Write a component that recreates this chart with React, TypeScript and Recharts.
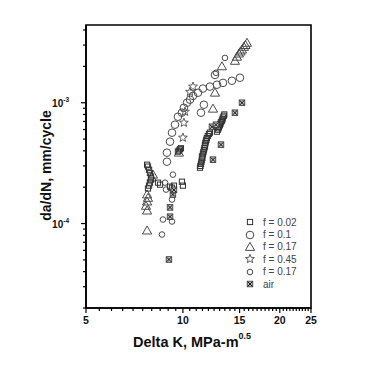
import React from 'react'
import { ScatterChart, Scatter, XAxis, YAxis, ReferenceArea } from 'recharts'

interface Pt {
  x: number
  y: number
}

const f002: Pt[] = [
  { x: 7.74, y: 3.07e-4 }, { x: 7.79, y: 2.96e-4 }, { x: 7.85, y: 2.79e-4 }, { x: 7.9, y: 2.62e-4 },
  { x: 7.96, y: 2.45e-4 }, { x: 7.96, y: 2.31e-4 }, { x: 7.9, y: 2.18e-4 }, { x: 7.85, y: 2.06e-4 },
  { x: 7.79, y: 1.95e-4 }, { x: 8.37, y: 2.18e-4 }, { x: 8.49, y: 2.1e-4 }, { x: 9.12, y: 2.02e-4 },
  { x: 9.25, y: 1.98e-4 }, { x: 9.38, y: 2.06e-4 }, { x: 9.93, y: 2.22e-4 }, { x: 10.0, y: 2.06e-4 },
  { x: 9.65, y: 3.94e-4 }, { x: 9.72, y: 4.02e-4 }, { x: 9.79, y: 4.12e-4 }, { x: 9.86, y: 4.2e-4 },
  { x: 11.3, y: 2.9e-4 }, { x: 11.34, y: 3.0e-4 }, { x: 11.38, y: 3.12e-4 }, { x: 11.42, y: 3.25e-4 },
  { x: 11.46, y: 3.38e-4 }, { x: 11.5, y: 3.5e-4 }, { x: 11.46, y: 3.6e-4 }, { x: 11.54, y: 3.75e-4 },
  { x: 11.58, y: 3.9e-4 }, { x: 11.62, y: 4.05e-4 }, { x: 11.66, y: 4.2e-4 }, { x: 11.71, y: 4.35e-4 },
  { x: 11.71, y: 4.5e-4 }, { x: 11.75, y: 4.65e-4 }, { x: 11.79, y: 4.8e-4 }, { x: 11.83, y: 4.95e-4 },
  { x: 11.87, y: 5.1e-4 }, { x: 11.95, y: 5.3e-4 }, { x: 12.05, y: 5.5e-4 }, { x: 12.13, y: 5.65e-4 },
  { x: 12.76, y: 5.76e-4 }, { x: 12.85, y: 5.98e-4 }, { x: 12.9, y: 6.15e-4 }, { x: 12.94, y: 6.3e-4 },
  { x: 13.03, y: 6.5e-4 }, { x: 13.08, y: 6.7e-4 }, { x: 13.13, y: 6.9e-4 }, { x: 13.22, y: 7.1e-4 },
  { x: 13.27, y: 7.3e-4 }, { x: 13.32, y: 7.55e-4 }, { x: 13.4, y: 7.8e-4 }, { x: 13.45, y: 8.0e-4 },
]

const f01: Pt[] = [
  { x: 8.92, y: 3.25e-4 }, { x: 8.92, y: 3.86e-4 }, { x: 9.12, y: 4.76e-4 }, { x: 9.25, y: 5.65e-4 },
  { x: 9.45, y: 6.58e-4 }, { x: 9.65, y: 7.66e-4 }, { x: 9.93, y: 8.27e-4 }, { x: 10.07, y: 9.09e-4 },
  { x: 10.3, y: 1.0e-3 }, { x: 10.52, y: 1.06e-3 }, { x: 10.75, y: 1.14e-3 }, { x: 11.14, y: 1.21e-3 },
  { x: 11.54, y: 1.31e-3 }, { x: 12.13, y: 1.36e-3 }, { x: 12.76, y: 1.41e-3 }, { x: 13.32, y: 1.46e-3 },
  { x: 14.2, y: 1.52e-3 }, { x: 15.04, y: 1.61e-3 }, { x: 11.62, y: 9.63e-4 }, { x: 11.38, y: 8.27e-4 },
  { x: 12.58, y: 1.7e-3 },
]

const f017: Pt[] = [
  { x: 7.74, y: 1.74e-4 }, { x: 7.79, y: 1.63e-4 }, { x: 7.74, y: 1.52e-4 }, { x: 7.68, y: 1.4e-4 },
  { x: 7.74, y: 1.28e-4 }, { x: 7.74, y: 8.75e-5 }, { x: 8.07, y: 2.54e-4 }, { x: 8.0, y: 2.4e-4 },
  { x: 9.72, y: 3.86e-4 }, { x: 15.81, y: 3.13e-3 }, { x: 15.64, y: 3.0e-3 }, { x: 15.47, y: 2.9e-3 },
  { x: 15.26, y: 2.75e-3 }, { x: 15.1, y: 2.65e-3 }, { x: 14.93, y: 2.55e-3 }, { x: 14.72, y: 2.4e-3 },
  { x: 14.51, y: 2.22e-3 }, { x: 13.22, y: 2.0e-3 }, { x: 12.58, y: 1.21e-3 }, { x: 12.4, y: 8.92e-4 },
]

const f045: Pt[] = [
  { x: 10.75, y: 1.36e-3 }, { x: 10.52, y: 1.23e-3 }, { x: 10.15, y: 8.43e-4 },
  { x: 10.07, y: 6.83e-4 }, { x: 10.0, y: 5.14e-4 },
]

const f017b: Pt[] = [
  { x: 8.8, y: 2.18e-4 }, { x: 8.86, y: 1.91e-4 }, { x: 9.31, y: 2.54e-4 }, { x: 9.25, y: 1.58e-4 },
  { x: 8.67, y: 1.08e-4 }, { x: 9.25, y: 1.04e-4 }, { x: 8.61, y: 8.11e-5 }, { x: 12.67, y: 1.77e-3 },
  { x: 13.51, y: 2.35e-3 },
]

const air: Pt[] = [
  { x: 15.26, y: 1.0e-3 }, { x: 14.51, y: 8.27e-4 }, { x: 13.13, y: 4.5e-4 }, { x: 12.4, y: 3.38e-4 },
  { x: 12.31, y: 6.33e-4 }, { x: 12.67, y: 6.58e-4 }, { x: 9.31, y: 1.74e-4 }, { x: 9.12, y: 1.36e-4 },
  { x: 9.12, y: 1.14e-4 }, { x: 9.05, y: 5.04e-5 }, { x: 9.38, y: 1.9e-4 },
]

const xMajor = [5, 10, 15, 20, 25]
const xTicks = Array.from({ length: 41 }, (_, i) => 5 + i * 0.5)
const yMajor = [1e-4, 1e-3]
const yTicks = [
  2e-5, 3e-5, 4e-5, 5e-5, 6e-5, 7e-5, 8e-5, 9e-5,
  1e-4, 2e-4, 3e-4, 4e-4, 5e-4, 6e-4, 7e-4, 8e-4, 9e-4,
  1e-3, 2e-3, 3e-3, 4e-3,
]
const legendItems = [
  { kind: 'square', label: 'f = 0.02' },
  { kind: 'circle', label: 'f = 0.1' },
  { kind: 'triangle', label: 'f = 0.17' },
  { kind: 'star', label: 'f = 0.45' },
  { kind: 'dot', label: 'f = 0.17' },
  { kind: 'air', label: 'air' },
]

const INK = '#4a4a4a'
const FONT = '"Liberation Sans", Arial, sans-serif'

function starPoints(cx: number, cy: number, ro: number, ri: number) {
  const pts: string[] = []
  for (let i = 0; i < 10; i++) {
    const r = i % 2 === 0 ? ro : ri
    const a = -Math.PI / 2 + (i * Math.PI) / 5
    pts.push(`${cx + r * Math.cos(a)},${cy + r * Math.sin(a)}`)
  }
  return pts.join(' ')
}

function Marker({ kind, cx, cy }: { kind: string; cx: number; cy: number }) {
  switch (kind) {
    case 'square':
      return <rect x={cx - 2.6} y={cy - 2.6} width={5.2} height={5.2} fill="none" stroke="#333" strokeWidth={1} />
    case 'circle':
      return <circle cx={cx} cy={cy} r={3.8} fill="none" stroke={INK} strokeWidth={1} />
    case 'triangle':
      return (
        <polygon
          points={`${cx},${cy - 4.6} ${cx + 4.6},${cy + 3.4} ${cx - 4.6},${cy + 3.4}`}
          fill="none"
          stroke={INK}
          strokeWidth={1}
        />
      )
    case 'star':
      return <polygon points={starPoints(cx, cy, 4.6, 2)} fill="none" stroke={INK} strokeWidth={0.9} />
    case 'dot':
      return <circle cx={cx} cy={cy} r={2.8} fill="none" stroke={INK} strokeWidth={1} />
    default:
      return (
        <g>
          <rect x={cx - 2.8} y={cy - 2.8} width={5.6} height={5.6} fill="#bbb" stroke="#333" strokeWidth={0.8} />
          <path
            d={`M${cx - 2.2},${cy - 2.2}L${cx + 2.2},${cy + 2.2}M${cx + 2.2},${cy - 2.2}L${cx - 2.2},${cy + 2.2}`}
            stroke="#111"
            strokeWidth={1}
          />
        </g>
      )
  }
}

const shapeOf = (kind: string) => (p: any) => <Marker kind={kind} cx={p.cx} cy={p.cy} />

function XTick({ x, y, payload }: any) {
  const v = payload.value
  const major = xMajor.includes(v)
  return (
    <g>
      <line x1={x} y1={y} x2={x} y2={y + (major ? 5 : 3)} stroke="#000" strokeWidth={1.2} />
      {major && (
        <text x={x} y={y + 16} textAnchor="middle" fontSize={10.5} fontWeight="bold" fill="#111" fontFamily={FONT}>
          {v}
        </text>
      )}
    </g>
  )
}

function YTick({ x, y, payload }: any) {
  const v = payload.value
  const major = yMajor.some((m) => Math.abs(m - v) / m < 1e-6)
  return (
    <g>
      <line x1={x} y1={y} x2={x - (major ? 5 : 3)} y2={y} stroke="#000" strokeWidth={1.2} />
      {major && (
        <text x={x - 17} y={y + 4} textAnchor="end" fontSize={10} fontWeight="bold" fill="#111" fontFamily={FONT}>
          10
          <tspan fontSize={6.5} dy={-5}>
            {v === 1e-3 ? '-3' : '-4'}
          </tspan>
        </text>
      )}
    </g>
  )
}

function XTitle({ viewBox }: any) {
  const { x, y } = viewBox
  return (
    <text x={x + 47} y={y + 39} fontSize={14.5} fontWeight="bold" fill="#111" fontFamily={FONT}>
      Delta K, MPa-m
      <tspan fontSize={9} dy={-8}>
        0.5
      </tspan>
    </text>
  )
}

function YTitle({ viewBox }: any) {
  const { y, height } = viewBox
  const cx = 38
  const cy = y + height / 2 - 1
  return (
    <text
      x={cx}
      y={cy}
      transform={`rotate(-90 ${cx} ${cy})`}
      textAnchor="middle"
      dominantBaseline="central"
      fontSize={14}
      fontWeight="bold"
      fill="#111"
      fontFamily={FONT}
    >
      da/dN, mm/cycle
    </text>
  )
}

export default function App() {
  return (
    <div style={{ position: 'relative', width: 369, height: 366 }}>
      <ScatterChart width={369} height={366} margin={{ top: 17, right: 66, bottom: 36, left: 38 }}>
        <XAxis
          type="number"
          dataKey="x"
          scale="log"
          domain={[5, 25]}
          ticks={xTicks}
          interval={0}
          allowDataOverflow
          height={30}
          tickLine={false}
          tickSize={0}
          tickMargin={0}
          tick={<XTick />}
          axisLine={{ stroke: '#000', strokeWidth: 1.6 }}
          label={<XTitle />}
        />
        <YAxis
          type="number"
          dataKey="y"
          scale="log"
          domain={[2e-5, 4.4e-3]}
          ticks={yTicks}
          interval={0}
          allowDataOverflow
          width={40}
          tickLine={false}
          tickSize={0}
          tickMargin={0}
          tick={<YTick />}
          axisLine={{ stroke: '#000', strokeWidth: 1.6 }}
          label={<YTitle />}
        />
        <ReferenceArea
          x1={5}
          x2={25}
          y1={2e-5}
          y2={4.4e-3}
          fill="none"
          stroke="#000"
          strokeWidth={1.6}
          fillOpacity={0}
          ifOverflow="visible"
        />
        <Scatter data={f01} shape={shapeOf('circle')} isAnimationActive={false} />
        <Scatter data={f017b} shape={shapeOf('dot')} isAnimationActive={false} />
        <Scatter data={f017} shape={shapeOf('triangle')} isAnimationActive={false} />
        <Scatter data={f045} shape={shapeOf('star')} isAnimationActive={false} />
        <Scatter data={f002} shape={shapeOf('square')} isAnimationActive={false} />
        <Scatter data={air} shape={shapeOf('air')} isAnimationActive={false} />
      </ScatterChart>
      <div style={{ position: 'absolute', left: 236, top: 208, fontFamily: FONT, fontSize: 10, color: '#444' }}>
        {legendItems.map((it) => (
          <div key={it.label + it.kind} style={{ display: 'flex', alignItems: 'center', height: 12.4 }}>
            <svg width={12} height={12} style={{ marginRight: 7 }}>
              <Marker kind={it.kind} cx={6} cy={6} />
            </svg>
            <span>{it.label}</span>
          </div>
        ))}
      </div>
    </div>
  )
}
